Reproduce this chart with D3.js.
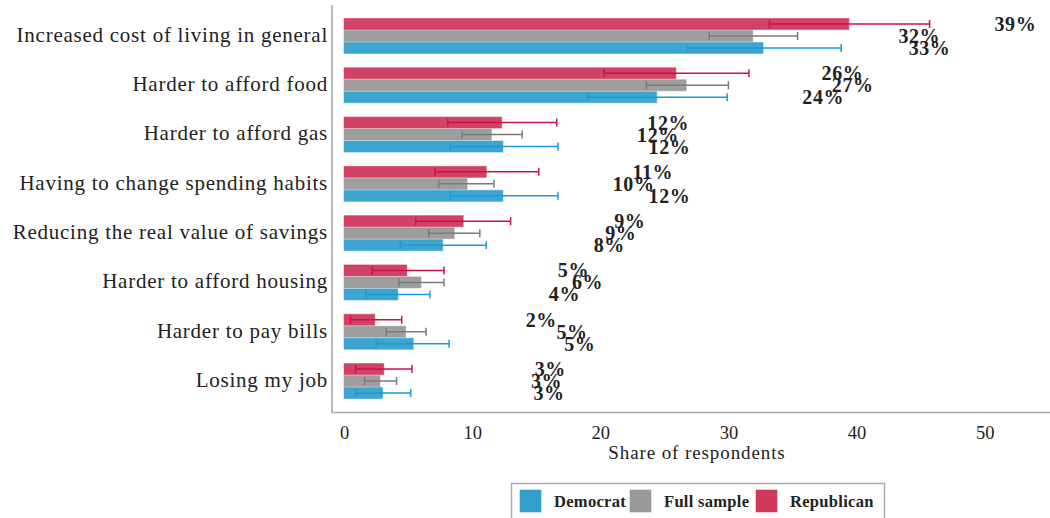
<!DOCTYPE html>
<html>
<head>
<meta charset="utf-8">
<script src="https://cdn.jsdelivr.net/npm/d3@7"></script>
<style>
	html, body { margin: 0; padding: 0; background: #fff; }
	#chart { width: 1050px; height: 518px; }
	text { font-family: "Liberation Serif", "DejaVu Serif", serif; fill: #222; }
</style>
</head>
<body>
<div id="chart"></div>
<script>
//Dados
var categories = [
	"Increased cost of living in general",
	"Harder to afford food",
	"Harder to afford gas",
	"Having to change spending habits",
	"Reducing the real value of savings",
	"Harder to afford housing",
	"Harder to pay bills",
	"Losing my job"
];
var seriesNames = ["Republican", "Full sample", "Democrat"];
var legendOrder = ["Democrat", "Full sample", "Republican"];
var republican = [39.4, 25.9, 12.3, 11.1, 9.3, 4.9, 2.4, 3.1];
var republicanLo = [33.2, 20.3, 8.1, 7.1, 5.6, 2.2, 0.5, 0.9];
var republicanHi = [45.7, 31.6, 16.6, 15.2, 13.0, 7.8, 4.5, 5.3];
var fullSample = [31.9, 26.7, 11.5, 9.6, 8.6, 6.0, 4.8, 2.8];
var fullSampleLo = [28.5, 23.6, 9.2, 7.4, 6.6, 4.3, 3.3, 1.6];
var fullSampleHi = [35.4, 30.0, 13.9, 11.7, 10.6, 7.8, 6.4, 4.1];
var democrat = [32.7, 24.4, 12.4, 12.4, 7.7, 4.2, 5.4, 3.0];
var democratLo = [26.8, 19.0, 8.3, 8.3, 4.4, 1.7, 2.5, 0.9];
var democratHi = [38.8, 29.9, 16.7, 16.7, 11.1, 6.7, 8.2, 5.2];
var xTicks = [0, 10, 20, 30, 40, 50];

(function () {
	'use strict';
	var colors = {"Republican": "#d0385c", "Full sample": "#999999", "Democrat": "#33a0cc"};
	var errColors = {"Republican": "#cc1244", "Full sample": "#7a7a7a", "Democrat": "#1a9ad6"};
	var values = {"Republican": republican, "Full sample": fullSample, "Democrat": democrat};
	var lows = {"Republican": republicanLo, "Full sample": fullSampleLo, "Democrat": democratLo};
	var highs = {"Republican": republicanHi, "Full sample": fullSampleHi, "Democrat": democratHi};

	//Linhas da tabela
	var rows = [];
	categories.forEach(function(c, i) {
		seriesNames.forEach(function(s) {
			rows.push({cat: c, series: s, v: values[s][i], lo: lows[s][i], hi: highs[s][i]});
		});
	});

	var svg = d3.select("#chart").append("svg")
		.attr("width", 1050)
		.attr("height", 518);

	//Escalas
	var x = d3.scaleLinear().domain([-0.94, 55.1]).range([332, 1050]);
	var y0 = d3.scaleBand().domain(categories).range([5, 412])
		.paddingInner(0.27).paddingOuter(0.263);
	var y1 = d3.scaleBand().domain(seriesNames).range([0, y0.bandwidth()]);

	//Moldura
	svg.append("path")
		.attr("d", "M" + x.range()[0] + ",5V412.5H" + x.range()[1])
		.attr("fill", "none")
		.attr("stroke", "#a8a8a8")
		.attr("stroke-width", 1.6);

	//Barras
	svg.selectAll(".bar").data(rows).enter().append("rect")
		.attr("class", "bar")
		.attr("x", x(0))
		.attr("y", function(d) { return y0(d.cat) + y1(d.series) + 0.5; })
		.attr("width", function(d) { return x(d.v) - x(0); })
		.attr("height", y1.bandwidth() - 1)
		.attr("fill", function(d) { return colors[d.series]; })
		.attr("fill-opacity", 0.95)
		.attr("stroke", function(d) { return colors[d.series]; })
		.attr("stroke-opacity", 0.55)
		.attr("stroke-width", 1);

	//Barras de erro
	var cap = 4;
	var err = svg.selectAll(".err").data(rows).enter().append("g")
		.attr("class", "err")
		.attr("stroke", function(d) { return errColors[d.series]; })
		.attr("stroke-width", 1.5);
	err.append("line")
		.attr("x1", function(d) { return x(d.lo); })
		.attr("x2", function(d) { return x(d.hi); })
		.attr("y1", function(d) { return y0(d.cat) + y1(d.series) + y1.bandwidth() / 2; })
		.attr("y2", function(d) { return y0(d.cat) + y1(d.series) + y1.bandwidth() / 2; });
	["lo", "hi"].forEach(function(k) {
		err.append("line")
			.attr("x1", function(d) { return x(d[k]); })
			.attr("x2", function(d) { return x(d[k]); })
			.attr("y1", function(d) { return y0(d.cat) + y1(d.series) + y1.bandwidth() / 2 - cap; })
			.attr("y2", function(d) { return y0(d.cat) + y1(d.series) + y1.bandwidth() / 2 + cap; });
	});

	//Rótulos de porcentagem
	svg.selectAll(".pct").data(rows).enter().append("text")
		.attr("class", "pct")
		.attr("x", function(d) { return x(d.v + 13); })
		.attr("y", function(d) { return y0(d.cat) + y1(d.series) + y1.bandwidth() / 2; })
		.attr("dy", "0.35em")
		.attr("text-anchor", "middle")
		.style("font-size", "20px")
		.style("letter-spacing", "0.6px")
		.style("font-weight", "bold")
		.text(function(d) { return Math.round(d.v) + "%"; });

	//Rótulos das categorias
	svg.selectAll(".cat").data(categories).enter().append("text")
		.attr("class", "cat")
		.attr("x", 328)
		.attr("y", function(d) { return y0(d) + y0.bandwidth() / 2 - 1.5; })
		.attr("dy", "0.35em")
		.attr("text-anchor", "end")
		.style("font-size", "21px")
		.style("letter-spacing", "0.75px")
		.text(function(d) { return d; });

	//Eixo X
	var axis = svg.append("g")
		.attr("transform", "translate(0,412)")
		.call(d3.axisBottom(x).tickValues(xTicks).tickSize(0).tickPadding(14));
	axis.select(".domain").remove();
	axis.selectAll("text")
		.style("font-family", '"Liberation Serif", serif')
		.style("font-size", "18.5px")
		.attr("fill", "#222");

	svg.append("text")
		.attr("x", 697)
		.attr("y", 459)
		.attr("text-anchor", "middle")
		.style("font-size", "19px")
		.style("letter-spacing", "0.9px")
		.text("Share of respondents");

	//Legenda
	var legend = svg.append("g");
	legend.append("rect")
		.attr("x", 511.5).attr("y", 483.5)
		.attr("width", 373).attr("height", 40)
		.attr("fill", "#fff")
		.attr("stroke", "#aaaaaa")
		.attr("stroke-width", 1.5);
	var lx = [520, 630, 756];
	var item = legend.selectAll(".leg").data(legendOrder).enter().append("g")
		.attr("class", "leg")
		.attr("transform", function(d, i) { return "translate(" + lx[i] + ",490)"; });
	item.append("rect")
		.attr("width", 21).attr("height", 22)
		.attr("fill", function(d) { return colors[d]; })
		.attr("stroke", function(d) { return colors[d]; })
		.attr("stroke-opacity", 0.6);
	item.append("text")
		.attr("x", 34)
		.attr("y", 11)
		.attr("dy", "0.35em")
		.style("font-size", "16.5px")
		.style("letter-spacing", "0.3px")
		.style("font-weight", "bold")
		.text(function(d) { return d; });
}());
</script>
</body>
</html>
